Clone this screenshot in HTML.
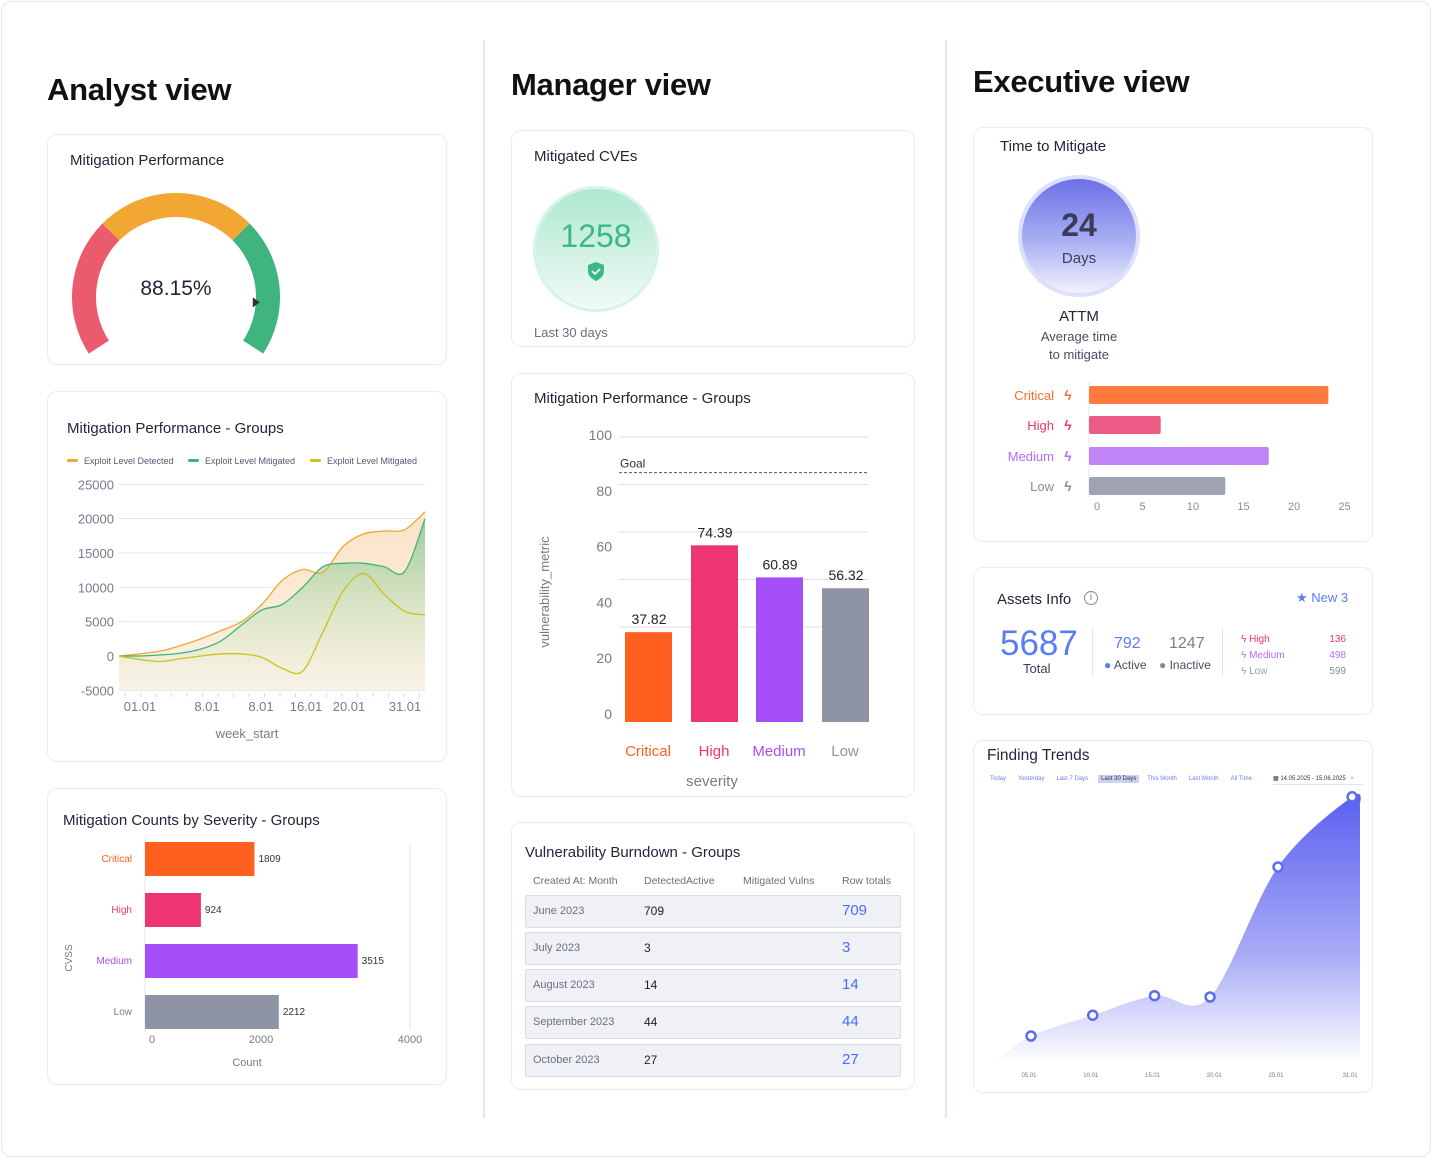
<!DOCTYPE html>
<html><head><meta charset="utf-8">
<style>
*{box-sizing:border-box;margin:0;padding:0}
body{width:1432px;height:1158px;background:#fff;font-family:"Liberation Sans",sans-serif;color:#2b2d42;position:relative;overflow:hidden}
.frame{position:absolute;left:1px;top:1px;width:1430px;height:1156px;border:1px solid #e6e6f4;border-radius:10px}
.vline{position:absolute;top:40px;width:2px;height:1078px;background:#e4e6f6}
.h1{position:absolute;font-size:31px;font-weight:bold;color:#111;letter-spacing:-0.3px}
.card{position:absolute;border:1px solid #ebebf5;border-radius:10px;background:#fff}
.ct{position:absolute;font-size:15px;color:#23253a}
.abs{position:absolute;white-space:nowrap}
svg{position:absolute;left:0;top:0;overflow:visible}
svg text{font-family:"Liberation Sans",sans-serif}
</style></head>
<body>
<div class="frame"></div>
<div class="vline" style="left:483px"></div>
<div class="vline" style="left:945px"></div>

<div class="h1" style="left:47px;top:72px">Analyst view</div>
<div class="h1" style="left:511px;top:67px">Manager view</div>
<div class="h1" style="left:973px;top:64px">Executive view</div>

<!-- Analyst cards -->
<div class="card" style="left:47px;top:134px;width:400px;height:231px">
  <div class="ct" style="left:22px;top:17px">Mitigation Performance</div>
</div>
<div class="card" style="left:47px;top:391px;width:400px;height:371px">
  <div class="ct" style="left:19px;top:28px">Mitigation Performance - Groups</div>
</div>
<div class="card" style="left:47px;top:788px;width:400px;height:297px">
  <div class="ct" style="left:15px;top:23px">Mitigation Counts by Severity - Groups</div>
</div>

<!-- Manager cards -->
<div class="card" style="left:511px;top:130px;width:404px;height:217px">
  <div class="ct" style="left:22px;top:17px">Mitigated CVEs</div>
  <div class="abs" style="left:22px;top:194px;font-size:13px;color:#6b6e80">Last 30 days</div>
</div>
<div class="card" style="left:511px;top:373px;width:404px;height:424px">
  <div class="ct" style="left:22px;top:16px">Mitigation Performance - Groups</div>
</div>
<div class="card" style="left:511px;top:822px;width:404px;height:268px">
  <div class="ct" style="left:13px;top:21px">Vulnerability Burndown - Groups</div>
</div>

<!-- Exec cards -->
<div class="card" style="left:973px;top:127px;width:400px;height:415px">
  <div class="ct" style="left:26px;top:10px">Time to Mitigate</div>
</div>
<div class="card" style="left:973px;top:567px;width:400px;height:148px">
  <div class="ct" style="left:23px;top:23px">Assets Info</div>
</div>
<div class="card" style="left:973px;top:740px;width:400px;height:353px">
  <div class="ct" style="left:13px;top:6px;font-size:15.5px">Finding Trends</div>
</div>

<!-- Mitigated CVEs circle -->
<div class="abs" style="left:533px;top:186px;width:126px;height:126px;border-radius:50%;background:linear-gradient(#aee8cf,#f1fbf7);border:3px solid #d6f4e7"></div>
<div class="abs" style="left:533px;top:218px;width:126px;text-align:center;font-size:32px;color:#3cb884">1258</div>
<svg width="1432" height="1158" style="pointer-events:none"><path d="M596 262 l8 3 v6 c0 5 -4 8 -8 10 c-4 -2 -8 -5 -8 -10 v-6z" fill="#3cb884"/><path d="M592 271 l3 3 l5 -5" stroke="#fff" stroke-width="1.6" fill="none"/></svg>

<!-- TTM circle -->
<div class="abs" style="left:1018px;top:175px;width:122px;height:122px;border-radius:50%;background:linear-gradient(#6b70e6,#a9b0f3 55%,#f1f2fe);border:4px solid #dde0fb"></div>
<div class="abs" style="left:1018px;top:207px;width:122px;text-align:center;font-size:32px;font-weight:bold;color:#3a3d55">24</div>
<div class="abs" style="left:1018px;top:250px;width:122px;text-align:center;font-size:15px;color:#3a3d55">Days</div>
<div class="abs" style="left:1018px;top:308px;width:122px;text-align:center;font-size:15px;color:#23253a">ATTM</div>
<div class="abs" style="left:1018px;top:328px;width:122px;text-align:center;font-size:13px;line-height:18px;color:#4a4d60;white-space:normal">Average time<br>to mitigate</div>

<!-- Assets info -->
<div class="abs" style="left:1084px;top:591px;width:14px;height:14px;border:1px solid #888;border-radius:50%;font-size:10px;text-align:center;line-height:12px;color:#777">i</div>
<div class="abs" style="left:1296px;top:590px;font-size:13px;color:#5b7cf5">★ New 3</div>
<div class="abs" style="left:1000px;top:624px;font-size:35px;color:#5b7cf5">5687</div>
<div class="abs" style="left:1023px;top:661px;font-size:13px;color:#3a3d55">Total</div>
<div class="abs" style="left:1092px;top:628px;width:1px;height:48px;background:#e0e2ec"></div>
<div class="abs" style="left:1222px;top:628px;width:1px;height:48px;background:#e0e2ec"></div>
<div class="abs" style="left:1114px;top:635px;font-size:16px;color:#5b7cf5">792</div>
<div class="abs" style="left:1169px;top:635px;font-size:16px;color:#7a7d8c">1247</div>
<div class="abs" style="left:1104px;top:658px;font-size:12px;color:#4a4d60"><span style="color:#5b7cf5">●</span> Active</div>
<div class="abs" style="left:1159px;top:658px;font-size:12px;color:#4a4d60"><span style="color:#888">●</span> Inactive</div>
<div class="abs" style="left:1241px;top:632px;font-size:10px;line-height:16px;color:#ec3571">ϟ High</div>
<div class="abs" style="left:1241px;top:648px;font-size:10px;line-height:16px;color:#b56cf5">ϟ Medium</div>
<div class="abs" style="left:1241px;top:664px;font-size:10px;line-height:16px;color:#9a9cab">ϟ Low</div>
<div class="abs" style="left:1300px;top:632px;width:46px;text-align:right;font-size:10px;line-height:16px;color:#ec3571">136</div>
<div class="abs" style="left:1300px;top:648px;width:46px;text-align:right;font-size:10px;line-height:16px;color:#b56cf5">498</div>
<div class="abs" style="left:1300px;top:664px;width:46px;text-align:right;font-size:10px;line-height:16px;color:#8a8c9b">599</div>

<!-- Finding trends filters -->
<div class="abs" style="left:990px;top:776px;font-size:6px;color:#6a7ff0;word-spacing:0">
<span style="margin-right:12px">Today</span><span style="margin-right:12px">Yesterday</span><span style="margin-right:10px">Last 7 Days</span><span style="margin-right:8px;background:#ccd2f7;color:#333;padding:1px 3px">Last 30 Days</span><span style="margin-right:12px">This Month</span><span style="margin-right:12px">Last Month</span><span>All Time</span></div>
<div class="abs" style="left:1273px;top:775px;width:90px;font-size:6px;color:#333;border-bottom:1px solid #e4e4ec;padding-bottom:2px">▦ 14.05.2025 - 15.06.2025 <span style="color:#999;margin-left:3px">×</span></div>

<!-- Burndown table -->
<div id="tbl"></div>

<svg id="charts" width="1432" height="1158"></svg>

<script>
// ---------- data ----------
const gaugeValue = 88.15;
const lineDates = ["01.01","8.01","8.01","16.01","20.01","31.01"];
const lineTicksY = [25000,20000,15000,10000,5000,0,-5000];
const detected = [0,300,700,1500,2500,3700,5000,7500,11000,12600,12200,16000,17800,18200,18400,21000];
const mitigatedA = [0,0,150,400,1000,2200,4500,6700,7500,10000,13000,13500,13500,13000,12300,20000];
const mitigatedB = [0,-500,-800,-400,0,300,300,-200,-1800,-2200,3500,9500,12000,9000,6500,6000];
const sevCats = ["Critical","High","Medium","Low"];
const sevVals = [37.82,74.39,60.89,56.32];
const sevTicks = [100,80,60,40,20,0];
const goalValue = 105;
const countVals = [1809,924,3515,2212];
const countTicks = [0,2000,4000];
const ttmVals = [23.7,7.1,17.8,13.5];
const ttmTicks = [0,5,10,15,20,25];
const trendDays = [2,5,10,15,19.5,25,31];
const trendVals = [0,10,18,25.5,25,75,102];
const trendTickDays = [5,10,15,20,25,31];
const trendTickLabels = ["05.01","10.01","15.01","20.01","25.01","31.01"];
const tblMonths = ["June 2023","July 2023","August 2023","September 2023","October 2023"];
const tblActive = [709,3,14,44,27];
const tblTotals = [709,3,14,44,27];

const NS="http://www.w3.org/2000/svg";
const svg=document.getElementById('charts');
function mk(tag,attrs,parent){const e=document.createElementNS(NS,tag);for(const k in attrs)e.setAttribute(k,attrs[k]);(parent||svg).appendChild(e);return e;}
function txt(x,y,s,attrs){const t=mk('text',Object.assign({x:x,y:y},attrs||{}));t.textContent=s;return t;}
function smooth(pts){let d=`M${pts[0][0]} ${pts[0][1]}`;for(let i=0;i<pts.length-1;i++){const p0=pts[i-1]||pts[i],p1=pts[i],p2=pts[i+1],p3=pts[i+2]||p2;const c1=[p1[0]+(p2[0]-p0[0])/6,p1[1]+(p2[1]-p0[1])/6],c2=[p2[0]-(p3[0]-p1[0])/6,p2[1]-(p3[1]-p1[1])/6];d+=` C${c1[0]} ${c1[1]} ${c2[0]} ${c2[1]} ${p2[0]} ${p2[1]}`;}return d;}

const defs=mk('defs',{});
defs.innerHTML='<linearGradient id="gGreen" x1="0" y1="0" x2="0" y2="1"><stop offset="0" stop-color="#7cc48a" stop-opacity="0.75"/><stop offset="1" stop-color="#e6f2d8" stop-opacity="0.2"/></linearGradient><linearGradient id="gOr" x1="0" y1="0" x2="0" y2="1"><stop offset="0" stop-color="#fbe3c6"/><stop offset="1" stop-color="#fdf3e8"/></linearGradient><linearGradient id="gPur" x1="0" y1="0" x2="0" y2="1"><stop offset="0" stop-color="#5a5ff0"/><stop offset="0.6" stop-color="#a9acf6"/><stop offset="1" stop-color="#ffffff"/></linearGradient>';

// ---------- gauge ----------
(function(){
 const cx=176,cy=297,r=92,w=24;
 function pt(a,rr){const t=(a-90)*Math.PI/180;return [cx+rr*Math.cos(t),cy+rr*Math.sin(t)];}
 function arc(a1,a2,col,name){const p1=pt(a1,r),p2=pt(a2,r);const large=(a2-a1)>180?1:0;const e=mk('path',{d:`M${p1[0]} ${p1[1]} A${r} ${r} 0 ${large} 1 ${p2[0]} ${p2[1]}`,stroke:col,'stroke-width':w,fill:'none'});
 
 }
 const start=-123,end=123;
 arc(start,-45,'#ec5a6e','gauge-red-segment');
 arc(-45,45,'#f2a733','gauge-orange-segment');
 arc(45,end,'#3fb47e','gauge-green-segment');
 const a=start+(end-start)*gaugeValue/100;const p=pt(a,r-12);
 const ptr=mk('polygon',{points:`${p[0]-3},${p[1]-5} ${p[0]+4},${p[1]} ${p[0]-3},${p[1]+5}`,fill:'#333'});
 
 
 const t=txt(cx,295,gaugeValue.toFixed(2)+'%',{'text-anchor':'middle','font-size':21,fill:'#23253a'});
 
 
})();

// ---------- line chart ----------
(function(){
 const x0=119,x1=425;const y=v=>656-v*34.33/5000;
 const xi=i=>x0+(x1-x0)*i/(detected.length-1);
 lineTicksY.forEach(v=>{mk('line',{x1:x0,x2:x1,y1:y(v),y2:y(v),stroke:'#e6e7ef'});const t=txt(114,y(v)+5,String(v),{'text-anchor':'end','font-size':13,fill:'#777a8c'});
 
 });
 const dx=[140,207,261,306,349,405];
 lineDates.forEach((s,i)=>{const t=txt(dx[i],711,s,{'text-anchor':'middle','font-size':13,fill:'#777a8c'});
 
 });
 for(let i=0;i<20;i++){mk('line',{x1:x0+6+i*15.5,x2:x0+6+i*15.5,y1:693,y2:697,stroke:'#d8d9e2'});}
 const pO=detected.map((v,i)=>[xi(i),y(v)]),pG=mitigatedA.map((v,i)=>[xi(i),y(v)]),pY=mitigatedB.map((v,i)=>[xi(i),y(v)]);
 mk('path',{d:smooth(pO)+` L${x1} 690 L${x0} 690Z`,fill:'url(#gOr)'});
 const ga=mk('path',{d:smooth(pG)+` L${x1} 692 L${x0} 692Z`,fill:'url(#gGreen)'});
 
 
 const l1=mk('path',{d:smooth(pO),stroke:'#f2a733','stroke-width':1.3,fill:'none'});
 
 
 const l2=mk('path',{d:smooth(pG),stroke:'#3fb47e','stroke-width':1.3,fill:'none'});
 
 
 const l3=mk('path',{d:smooth(pY),stroke:'#c9c21a','stroke-width':1.3,fill:'none'});
 
 
 const leg=[[67,'#f2a733','Exploit Level Detected'],[188,'#3fb47e','Exploit Level Mitigated'],[310,'#c9c21a','Exploit Level Mitigated']];
 leg.forEach(l=>{mk('rect',{x:l[0],y:459,width:11,height:3,rx:1.5,fill:l[1]});const t=txt(l[0]+17,464,l[2],{'font-size':9,fill:'#555870'});
 
 });
 const xt=txt(247,738,'week_start',{'text-anchor':'middle','font-size':13,fill:'#777a8c'});
 
 
})();

// ---------- counts bar chart ----------
(function(){
 const x=v=>145+v*0.0605;const rows=[842,893,944,995];const cols=['#ff5f1f','#ec3571','#a64dfa','#8f93a6'];const lc=['#ff5f1f','#ec3571','#a64dfa','#777a8c'];
 mk('line',{x1:410,x2:410,y1:843,y2:1030,stroke:'#e6e7ef'});
 mk('line',{x1:145,x2:145,y1:838,y2:1032,stroke:'#e6e7ef'});
 countVals.forEach((v,i)=>{const r=mk('rect',{x:145,y:rows[i],width:x(v)-145,height:34,fill:cols[i]});
 
 
 txt(x(v)+4,rows[i]+20,String(v),{'font-size':10,fill:'#333'});
 const t=txt(132,rows[i]+20,sevCats[i],{'text-anchor':'end','font-size':10,fill:lc[i]});
 
 });
 countTicks.forEach((v,i)=>{const px=[152,261,410][i];const t=txt(px,1043,String(v),{'text-anchor':'middle','font-size':11,fill:'#777a8c'});
 
 });
 const xt=txt(247,1066,'Count',{'text-anchor':'middle','font-size':11,fill:'#777a8c'});
 
 
 const yt=txt(0,0,'CVSS',{'font-size':10,fill:'#777a8c',transform:'translate(72,958) rotate(-90)','text-anchor':'middle'});
 
 
})();

// ---------- severity bar chart ----------
(function(){
 const y=v=>722-v*2.375;const xs=[625,691,756,822];const cols=['#ff5f1f','#ec3571','#a64dfa','#8f93a6'];const lc=['#ff5f1f','#ec3571','#a64dfa','#8f93a6'];
 [40,60,80,100,120].forEach(v=>mk('line',{x1:619,x2:868,y1:y(v)+y(0)-722,y2:y(v),stroke:'#dedfe6'}));
 mk('line',{x1:619,x2:868,y1:y(goalValue),y2:y(goalValue),stroke:'#555','stroke-dasharray':'3 2'});
 txt(620,y(goalValue)-5,'Goal',{'font-size':12,fill:'#333'});
 sevTicks.forEach(v=>{const t=txt(612,714-v*2.79+5,String(v),{'text-anchor':'end','font-size':14,fill:'#777a8c'});
 
 });
 sevVals.forEach((v,i)=>{const r=mk('rect',{x:xs[i],y:y(v),width:47,height:722-y(v),fill:cols[i]});
 
 
 txt(xs[i]+24,y(v)-8,v.toFixed(2),{'text-anchor':'middle','font-size':14,fill:'#222'});
 const t=txt(xs[i]+23,756,sevCats[i],{'text-anchor':'middle','font-size':15,fill:lc[i]});
 
 });
 const xt=txt(712,786,'severity',{'text-anchor':'middle','font-size':15,fill:'#777a8c'});
 
 
 const yt=txt(0,0,'vulnerability_metric',{'font-size':13,fill:'#777a8c',transform:'translate(549,592) rotate(-90)','text-anchor':'middle'});
 
 
})();

// ---------- TTM bars ----------
(function(){
 const x=v=>1089+v*10.1;const rows=[386,416,447,477];const cols=['#ff7a3d','#ec5a86','#c184f7','#9fa2b0'];const lc=['#ff6b2c','#ec3571','#b56cf5','#888a98'];
 mk('line',{x1:1089,x2:1089,y1:382,y2:497,stroke:'#e4e5ec'});
 ttmVals.forEach((v,i)=>{const r=mk('rect',{x:1089,y:rows[i],width:x(v)-1089,height:18,rx:2,fill:cols[i]});
 
 
 const t=txt(1054,rows[i]+14,sevCats[i],{'text-anchor':'end','font-size':13,fill:lc[i]});
 
 
 txt(1068,rows[i]+14,'ϟ',{'text-anchor':'middle','font-size':14,'font-weight':'bold',fill:lc[i]});});
 ttmTicks.forEach(v=>{const t=txt(x(v)+(v?3:8),510,String(v),{'text-anchor':'middle','font-size':11,fill:'#888a98'});
 
 });
})();

// ---------- finding trends ----------
(function(){
 const x=d=>1031+(d-5)*12.35;const y=v=>1062-v*2.6;
 const pts=trendDays.map((d,i)=>[x(d),y(trendVals[i])]);
 pts.unshift([986,y(0)]);pts.push([1360,y(trendVals[trendVals.length-1])+10]);
 const a=mk('path',{d:smooth(pts)+` L1360 1062 L986 1062Z`,fill:'url(#gPur)'});
 
 
 trendDays.forEach((d,i)=>{if(i===0)return;const c=mk('circle',{cx:x(d),cy:y(trendVals[i]),r:4.5,fill:'#fff',stroke:'#5b6df0','stroke-width':2.5});
 
 });
 trendTickDays.forEach((d,i)=>{const t=txt(x(d)-2,1077,trendTickLabels[i],{'text-anchor':'middle','font-size':6,fill:'#777a8c'});
 
 });
})();

// ---------- table ----------
(function(){
 const tb=document.getElementById('tbl');
 const hdr=[['Created At: Month',533],['DetectedActive',644],['Mitigated Vulns',743],['Row totals',842]];
 hdr.forEach(h=>{const d=document.createElement('div');d.className='abs';d.style.cssText=`left:${h[1]}px;top:875px;font-size:10.5px;color:#6b6e80`;d.textContent=h[0];
 
 
 tb.appendChild(d);});
 const ys=[895,932,969,1006,1044];
 tblMonths.forEach((m,i)=>{const r=document.createElement('div');r.className='abs';r.style.cssText=`left:525px;top:${ys[i]}px;width:376px;height:33px;background:#eff1f6;border:1px solid #d9dce6;border-radius:2px`;
 
 
 r.innerHTML=`<span class="abs" style="left:7px;top:9px;font-size:11px;color:#6b6e80">${m}</span><span class="abs" style="left:118px;top:8px;font-size:12px;color:#222">${tblActive[i]}</span><span class="abs" style="left:316px;top:6px;font-size:15px;color:#4a6cf7">${tblTotals[i]}</span>`;
 tb.appendChild(r);});
})();
</script>
</body></html>
